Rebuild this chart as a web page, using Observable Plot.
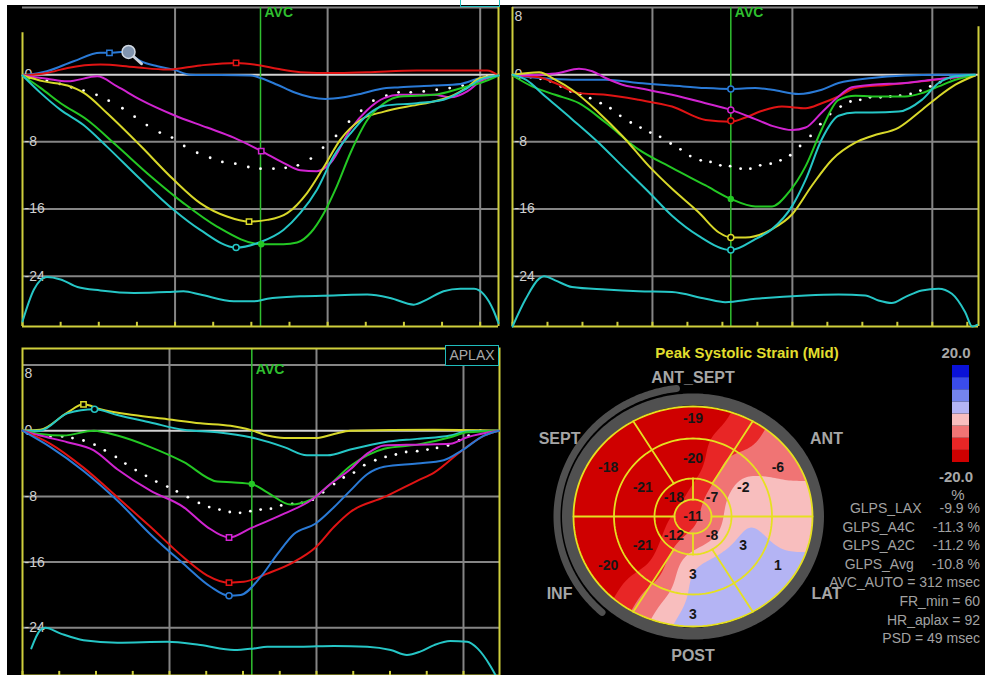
<!DOCTYPE html>
<html>
<head>
<meta charset="utf-8">
<script src="https://cdn.jsdelivr.net/npm/d3@7"></script>
<script src="https://cdn.jsdelivr.net/npm/@observablehq/plot@0.6"></script>
<style>
html, body { margin:0; padding:0; background:#fff; width:985px; height:675px; overflow:hidden; font-family:"Liberation Sans", Arial, sans-serif; }
#bg { position:absolute; left:7px; top:5px; width:978px; height:670px; background:#000; }
.abs { position:absolute; }
.abs svg { display:block; }
#boxTop { left:460px; top:-4px; width:38px; height:10px; border:1.5px solid #1fbcbc; border-top:none; }
#aplax { left:445px; top:345px; width:52px; height:19px; border:1.5px solid #1fbcbc; background:#000; color:#a8a8a8; font-size:14px; line-height:19px; text-align:center; }
#title { left:597px; top:344px; width:300px; text-align:center; color:#e2de2e; font-weight:bold; font-size:15px; line-height:18px; }
.cbl { width:50px; text-align:center; color:#a8a8a8; font-size:15px; line-height:18px; }
#stats { right:5px; top:499px; text-align:right; font-size:14px; line-height:18.6px; color:#a2a2a2; white-space:pre; }
#stats .v { margin-left:18px; }
</style>
</head>
<body>
<div id="bg"></div>
<div id="p1" class="abs" style="left:7px;top:5px;width:496px;height:328px"></div>
<div id="p2" class="abs" style="left:503px;top:5px;width:482px;height:328px"></div>
<div id="p3" class="abs" style="left:7px;top:333px;width:500px;height:342px"></div>
<div id="bull" class="abs" style="left:510px;top:333px;width:475px;height:342px"></div>
<div id="cbar" class="abs" style="left:952px;top:365px;width:17px;height:97px"></div>
<div id="boxTop" class="abs"></div>
<div id="aplax" class="abs">APLAX</div>
<div id="title" class="abs">Peak Systolic Strain (Mid)</div>
<div class="abs cbl" style="left:931px;top:344px;font-weight:bold">20.0</div>
<div class="abs cbl" style="left:931px;top:468px;font-weight:bold">-20.0</div>
<div class="abs cbl" style="left:933px;top:486px">%</div>
<div id="stats" class="abs"></div>
<script>
// ---------- constants ----------
const AVC_MS = 312;
const GRID_X = [200, 400, 600];
const GRID_Y = [8, -8, -16, -24];
const TICK_LABELS = [0, -8, -16, -24];
const C = {blue:"#2a7ad6", red:"#e01414", magenta:"#d024d0", yellow:"#d8d82a", green:"#24c824", cyan:"#26c6c6"};
const AXIS_YELLOW = "#cfcf3c";

// ---------- panel 1 (time ms, strain %) ----------
const p1Blue = [[0,-0.1],[32,0.4],[67,1.6],[102,2.6],[114,2.6],[129,2.7],[140,2.5],[155,1.6],[177,1.0],[198,0.6],[220,0],[299,-0.1],[312,-0.4],[334,-1.2],[356,-2.1],[378,-2.7],[397,-2.9],[421,-2.7],[443,-2.3],[469,-1.7],[495,-1.5],[539,-1.3],[574,-1.1],[600,-0.4],[624,-0.1]];
const p1Red = [[0,-0.1],[32,0.2],[59,0.8],[102,1.2],[146,0.9],[190,0.6],[233,1.1],[280,1.4],[312,1.1],[334,0.7],[364,0.3],[408,0.2],[452,0.3],[517,0.5],[561,0.5],[609,0.5],[624,-0.1]];
const p1Magenta = [[0,-0.1],[32,-0.5],[59,-0.8],[98,-0.2],[124,-1.4],[155,-3.0],[198,-4.8],[242,-6.3],[277,-7.5],[313,-9.1],[342,-10.5],[364,-11.4],[386,-11.5],[404,-10.5],[430,-6.5],[452,-4.2],[474,-2.8],[495,-2.4],[539,-2.4],[561,-2.7],[583,-2.0],[600,-0.8],[624,-0.1]];
const p1Yellow = [[0,-0.1],[28,-0.8],[59,-1.3],[81,-2.2],[111,-4.6],[155,-8.5],[198,-12.5],[233,-15.3],[268,-16.9],[297,-17.5],[321,-17.3],[347,-16.5],[373,-14.1],[395,-11.0],[417,-7.7],[443,-5.4],[474,-4.4],[517,-3.6],[539,-3.2],[561,-2.6],[583,-1.5],[600,-0.4],[624,-0.1]];
const p1Green = [[0,-0.1],[24,-1.6],[50,-3.4],[85,-5.4],[124,-8.5],[168,-12.1],[211,-15.3],[255,-18.1],[313,-20.2],[342,-20.2],[360,-20.0],[378,-18.8],[395,-16.5],[412,-13.3],[430,-9.3],[452,-5.4],[474,-3.4],[495,-2.6],[539,-2.4],[583,-1.4],[600,-1.0],[624,-0.1]];
const p1Cyan = [[0,-0.1],[24,-2.2],[50,-4.2],[80,-6.0],[111,-8.6],[155,-12.5],[198,-16.1],[233,-18.5],[280,-20.6],[313,-19.9],[342,-18.5],[364,-16.5],[386,-13.7],[408,-9.7],[430,-7.0],[452,-4.8],[474,-3.7],[517,-3.4],[552,-3.0],[583,-1.6],[600,-0.6],[624,-0.1]];
const p1Avg = [[32,-0.7],[49,-1.1],[64,-1.5],[80,-1.9],[97,-2.4],[113,-3.1],[131,-4.0],[147,-5.0],[163,-6.0],[180,-6.9],[196,-7.5],[212,-8.5],[229,-9.3],[246,-9.9],[262,-10.4],[279,-10.6],[296,-11.0],[312,-11.2],[329,-11.2],[345,-11.1],[361,-10.8],[378,-10.0],[394,-8.7],[411,-7.3],[428,-5.6],[444,-4.3],[460,-3.1],[477,-2.5],[493,-2.1],[509,-2.1],[526,-2.0],[543,-1.8],[560,-1.6],[577,-1.3],[593,-0.7],[609,-0.2]];
const p1Trace = [[0,-29.4],[15,-25.6],[32,-24.1],[50,-24.4],[72,-25.3],[102,-25.7],[146,-26.0],[190,-25.9],[211,-25.8],[233,-26.2],[277,-27.0],[303,-27.0],[321,-26.7],[364,-26.4],[408,-26.3],[452,-26.2],[482,-26.6],[513,-27.4],[530,-26.8],[552,-25.8],[574,-25.5],[592,-25.5],[605,-26.2],[617,-28.0],[624,-29.6]];
const p1Markers = [
  {t:114, v:2.6, c:"blue", s:"square"}, {t:280, v:1.4, c:"red", s:"square"},
  {t:297, v:-17.5, c:"yellow", s:"square"}, {t:280, v:-20.6, c:"cyan", s:"circle"},
  {t:313, v:-20.2, c:"green", s:"dot"}, {t:313, v:-9.1, c:"magenta", s:"square"}
];
const p1Magnifier = [[139,2.7],[156,1.3]];

// ---------- panel 2 ----------
const p2Blue = [[0,-0.1],[38,-0.4],[85,-0.6],[133,-0.6],[180,-1.0],[228,-1.3],[276,-1.6],[312,-1.7],[347,-1.6],[371,-1.8],[409,-2.3],[442,-1.8],[466,-1.0],[514,-0.4],[561,-0.1],[609,0],[661,0]];
const p2Red = [[0,-0.1],[38,-0.3],[61,-1.0],[95,-2.2],[133,-2.4],[180,-3.0],[228,-3.8],[276,-5.4],[312,-5.6],[333,-5.1],[357,-4.3],[385,-3.8],[419,-4.0],[442,-3.4],[466,-2.6],[490,-1.6],[538,-1.2],[585,-0.8],[633,-0.3],[661,-0.1]];
const p2Magenta = [[0,-0.1],[38,0],[66,0.2],[95,0.7],[114,0.4],[133,-0.4],[157,-1.2],[180,-1.6],[228,-2.4],[276,-3.4],[312,-4.2],[347,-5.3],[371,-6.1],[400,-6.6],[419,-6.3],[442,-4.5],[466,-2.6],[485,-1.5],[514,-1.2],[561,-1.0],[600,-0.6],[633,-0.3],[661,-0.1]];
const p2Green = [[0,-0.1],[28,-1.4],[61,-2.4],[95,-3.4],[133,-5.7],[180,-8.9],[228,-11.1],[276,-13.2],[312,-14.8],[347,-15.7],[371,-15.7],[395,-14.0],[419,-10.9],[442,-6.5],[466,-3.0],[490,-2.5],[514,-2.6],[561,-2.6],[585,-2.2],[609,-1.4],[633,-0.6],[661,-0.1]];
const p2Yellow = [[0,0],[38,0.3],[61,-0.6],[85,-1.8],[123,-4.5],[157,-7.3],[195,-10.9],[228,-13.6],[266,-16.4],[295,-18.8],[312,-19.4],[333,-19.4],[371,-18.4],[400,-16.6],[428,-13.2],[457,-10.1],[490,-8.1],[514,-7.3],[552,-6.3],[585,-4.2],[609,-2.6],[633,-1.2],[661,-0.1]];
const p2Cyan = [[0,0],[19,-0.6],[47,-2.6],[85,-5.3],[123,-8.1],[157,-10.9],[195,-14.0],[228,-16.8],[266,-19.2],[312,-20.9],[347,-19.6],[371,-18.4],[400,-15.6],[419,-12.5],[442,-7.7],[466,-4.9],[490,-4.5],[514,-4.5],[552,-4.4],[585,-3.0],[609,-1.0],[633,-0.2],[661,0]];
const p2Avg = [[11,-0.1],[26,-0.3],[40,-0.5],[54,-0.8],[69,-1.4],[83,-2.0],[97,-2.3],[111,-2.8],[126,-3.4],[140,-4.0],[154,-4.9],[169,-5.7],[183,-6.3],[197,-6.9],[211,-7.4],[226,-8.2],[240,-8.9],[254,-9.7],[269,-10.2],[283,-10.4],[297,-10.8],[311,-10.9],[326,-11.2],[340,-11.2],[354,-10.8],[369,-10.6],[383,-10.2],[397,-9.6],[411,-8.5],[426,-7.3],[440,-5.9],[454,-4.7],[469,-3.8],[483,-3.2],[497,-3.0],[511,-2.7],[526,-2.7],[540,-2.6],[554,-2.5],[569,-2.3],[583,-1.9],[597,-1.4],[611,-0.9],[626,-0.4],[640,-0.2]];
const p2Trace = [[0,-30],[19,-26.7],[38,-24.3],[45,-24.0],[61,-24.5],[85,-25.3],[133,-25.6],[180,-25.8],[228,-25.9],[276,-26.7],[304,-27.1],[347,-26.7],[419,-26.3],[466,-26.2],[504,-26.3],[523,-26.9],[542,-27.2],[561,-26.5],[585,-25.7],[609,-25.5],[628,-26.1],[647,-28.3],[657,-30],[664,-29.8]];
const p2Markers = [
  {t:312, v:-1.7, c:"blue", s:"circle"}, {t:312, v:-4.2, c:"magenta", s:"circle"},
  {t:312, v:-5.5, c:"red", s:"circle"}, {t:312, v:-14.8, c:"green", s:"dot"},
  {t:312, v:-19.4, c:"yellow", s:"circle"}, {t:312, v:-20.9, c:"cyan", s:"circle"}
];

// ---------- panel 3 ----------
const p3Yellow = [[0,0],[24,0.1],[61,2.2],[83,3.2],[106,2.6],[151,1.9],[197,1.4],[242,0.9],[283,0.6],[310,0.1],[333,-0.6],[356,-0.9],[399,-0.9],[424,-0.4],[446,0],[560,0.1],[648,0]];
const p3Cyan = [[0,0],[24,0],[61,2.1],[98,2.6],[129,1.9],[174,1.0],[219,0.1],[265,-0.2],[310,-0.8],[356,-2.0],[387,-3.0],[415,-3.0],[446,-2.3],[492,-1.4],[537,-1.0],[582,-0.6],[605,-0.1],[648,0]];
const p3Green = [[0,0],[24,-0.4],[56,-0.6],[97,0],[129,-0.6],[174,-2.0],[219,-3.8],[265,-6.2],[288,-6.3],[312,-6.5],[333,-7.5],[365,-9.0],[392,-8.4],[419,-6.5],[446,-4.3],[469,-3.0],[492,-2.2],[537,-1.7],[582,-0.8],[605,-0.2],[648,0]];
const p3Magenta = [[0,0],[24,-0.6],[61,-1.4],[97,-2.4],[129,-4.7],[174,-7.3],[219,-9.3],[251,-11.7],[281,-13.0],[310,-11.9],[356,-10.1],[392,-8.5],[419,-6.5],[446,-4.7],[469,-2.8],[492,-1.8],[537,-1.7],[582,-1.6],[605,-0.8],[648,0]];
const p3Red = [[0,0],[38,-1.6],[83,-4.5],[129,-8.1],[174,-11.7],[219,-15.4],[251,-17.6],[281,-18.5],[301,-18.4],[333,-17.4],[369,-16.0],[399,-14.2],[424,-11.7],[446,-9.9],[492,-8.1],[537,-6.1],[560,-5.1],[598,-2.4],[628,-0.6],[648,0]];
const p3Blue = [[0,0],[38,-2.0],[83,-4.9],[129,-8.5],[174,-12.6],[219,-16.2],[256,-19.0],[281,-20.1],[297,-20.0],[324,-17.8],[347,-15.0],[369,-12.6],[399,-11.3],[424,-9.3],[446,-7.3],[469,-5.3],[492,-4.4],[537,-4.0],[573,-3.6],[598,-2.4],[628,-0.6],[648,0]];
const p3Avg = [[15,-0.4],[38,-0.7],[54,-0.7],[68,-0.9],[83,-1.2],[98,-1.7],[112,-2.4],[127,-3.2],[140,-4.0],[154,-4.8],[168,-5.5],[182,-6.2],[197,-6.8],[210,-7.4],[225,-8.1],[240,-8.8],[254,-9.3],[268,-9.6],[282,-9.9],[296,-10.0],[310,-9.8],[324,-9.6],[338,-9.5],[352,-9.1],[367,-8.9],[380,-8.8],[395,-8.4],[409,-7.5],[424,-6.5],[437,-5.7],[451,-5.1],[465,-4.2],[480,-3.6],[494,-3.2],[508,-2.9],[522,-2.6],[537,-2.5],[551,-2.3],[564,-2.1],[579,-1.8],[594,-1.2],[607,-0.6],[623,0]];
const p3Trace = [[12,-26.5],[24,-24.3],[31,-24.0],[52,-24.7],[83,-25.5],[129,-25.8],[197,-25.7],[242,-26.1],[288,-26.7],[315,-26.5],[333,-26.3],[378,-26.3],[424,-26.2],[469,-26.3],[501,-26.7],[523,-27.3],[541,-26.9],[560,-26.1],[582,-25.6],[605,-25.7],[619,-26.5],[637,-28.7],[648,-30.5]];
const p3Markers = [
  {t:83, v:3.2, c:"yellow", s:"square"}, {t:98, v:2.6, c:"cyan", s:"circle"},
  {t:312, v:-6.5, c:"green", s:"dot"}, {t:281, v:-13.0, c:"magenta", s:"square"},
  {t:281, v:-18.5, c:"red", s:"square"}, {t:281, v:-20.1, c:"blue", s:"circle"}
];

// ---------- bullseye ----------
const segRing  = ["basal","basal","basal","basal","basal","basal","mid","mid","mid","mid","mid","mid","apical","apical","apical","apical","apex"];
const segAngle = [90, 30, -30, -90, -150, 150, 90, 30, -30, -90, -150, 150, 135, 45, -45, -135, 0];
const segValue = [-19, -6, 1, 3, -20, -18, -20, -2, 3, 3, -21, -21, -18, -7, -8, -12, -11];
const wallNames = ["ANT_SEPT", "ANT", "LAT", "POST", "INF", "SEPT"];
const wallAngles = [90, 34, -34, -90, -146, 146];
const SCALE_BREAKS = [-15, -10, -5, 0, 5, 10, 15];
const CONTOUR_LEVELS = [-40, -15, -10, -5, 0, 5, 10, 15];
const SCALE_COLORS = ["#cf0000", "#e82626", "#f07474", "#f8bebe", "#b4b4f4", "#7484ee", "#3a4cea", "#0a12d8"];
const SCALE_BINS = [-20, -15, -10, -5, 0, 5, 10, 15];
const statLabels = ["GLPS_LAX", "GLPS_A4C", "GLPS_A2C", "GLPS_Avg"];
const statValues = ["-9.9 %", "-11.3 %", "-11.2 %", "-10.8 %"];
const infoLines = ["AVC_AUTO = 312 msec", "FR_min = 60", "HR_aplax = 92", "PSD = 49 msec"];

// ---------- helpers ----------
const FONT = "Liberation Sans, Arial, sans-serif";
const px = d => d[0], py = d => d[1];

function strainPanel(o) {
  const [yMin, yMax] = o.yDomain;
  const xMax = o.xMax;
  const line = (data, c) => Plot.line(data, {x: px, y: py, stroke: C[c], strokeWidth: 2, curve: "monotone-x"});
  const LBL = {textAnchor: "start", fill: "#cfcfcf", fontSize: 14, dx: 2};
  const marks = [
    Plot.ruleY(GRID_Y.filter(v => v >= yMin && v <= yMax), {stroke: "#858585", strokeWidth: 2}),
    Plot.ruleX(GRID_X.filter(t => t < xMax), {stroke: "#858585", strokeWidth: 2}),
    Plot.ruleY([0], {stroke: "#d2d2d2", strokeWidth: 2}),
    Plot.ruleX([AVC_MS], {stroke: "#30c030", strokeWidth: 1.5}),
    Plot.text(["AVC"], {x: AVC_MS, y: 7.4, text: d => d, dx: 4, textAnchor: "start", fill: "#2fbf2f", fontSize: 14, fontWeight: "bold"}),
    Plot.text(TICK_LABELS, {x: 0, y: d => d, text: d => String(d), ...LBL})
  ];
  if (o.show8) marks.push(Plot.text([8], {x: 0, y: d => d, text: d => String(d), dy: 9, ...LBL}));
  // frame
  if (o.fullFrame) marks.push(Plot.frame({stroke: AXIS_YELLOW, strokeWidth: 2}));
  else {
    marks.push(Plot.ruleX([0], {y1: yMin, y2: o.leftTop, stroke: AXIS_YELLOW, strokeWidth: 2}));
    marks.push(Plot.ruleX([xMax], {y1: yMin, y2: o.rightTop, stroke: AXIS_YELLOW, strokeWidth: 2}));
    marks.push(Plot.ruleY([yMin], {stroke: AXIS_YELLOW, strokeWidth: 2}));
  }
  marks.push(Plot.ruleX(d3.range(0, xMax + 1, 50), {y1: yMin, y2: yMin + 0.5, stroke: AXIS_YELLOW, strokeWidth: 2}));
  // traces
  marks.push(line(o.trace, "cyan"));
  marks.push(Plot.dot(o.avg, {x: px, y: py, r: 1.4, fill: "#ffffff"}));
  for (const [data, c] of o.series) marks.push(line(data, c));
  // markers
  marks.push(Plot.dot(o.markers.filter(m => m.s === "square"), {x: "t", y: "v", symbol: "square", r: 3, stroke: d => C[d.c], strokeWidth: 1.5, fill: "black"}));
  marks.push(Plot.dot(o.markers.filter(m => m.s === "circle"), {x: "t", y: "v", symbol: "circle", r: 3, stroke: d => C[d.c], strokeWidth: 1.5, fill: "black"}));
  marks.push(Plot.dot(o.markers.filter(m => m.s === "dot"), {x: "t", y: "v", r: 3.2, fill: d => C[d.c]}));
  if (o.magnifier) {
    marks.push(Plot.line(o.magnifier, {x: px, y: py, stroke: "#c8d0da", strokeWidth: 3}));
    marks.push(Plot.dot(o.magnifier.slice(0, 1), {x: px, y: py, r: 6.5, fill: "#8094ae", stroke: "#d0d8e2", strokeWidth: 1.5}));
  }
  return Plot.plot({
    width: o.width, height: o.height,
    marginLeft: o.ml, marginRight: o.mr, marginTop: o.mt, marginBottom: o.mb,
    x: {domain: [0, xMax], axis: null},
    y: {domain: [yMin, yMax], axis: null},
    color: {type: "identity"},
    style: {background: "transparent", fontFamily: FONT, overflow: "hidden"},
    marks
  });
}

document.getElementById("p1").append(strainPanel({
  width: 496, height: 328, ml: 15, mr: 5, mt: 2, mb: 7,
  xMax: 624, yDomain: [-30, 8], leftTop: 5, rightTop: 8, show8: false,
  trace: p1Trace, avg: p1Avg,
  series: [[p1Blue,"blue"],[p1Red,"red"],[p1Magenta,"magenta"],[p1Yellow,"yellow"],[p1Green,"green"],[p1Cyan,"cyan"]],
  markers: p1Markers, magnifier: p1Magnifier
}));
document.getElementById("p2").append(strainPanel({
  width: 482, height: 328, ml: 9, mr: 7, mt: 2, mb: 7,
  xMax: 666, yDomain: [-30, 8], leftTop: 8, rightTop: 5.7, show8: true,
  trace: p2Trace, avg: p2Avg,
  series: [[p2Blue,"blue"],[p2Red,"red"],[p2Magenta,"magenta"],[p2Green,"green"],[p2Yellow,"yellow"],[p2Cyan,"cyan"]],
  markers: p2Markers
}));
document.getElementById("p3").append(strainPanel({
  width: 500, height: 342, ml: 15, mr: 8, mt: 15, mb: 0,
  xMax: 649, yDomain: [-29.8, 10], fullFrame: true, show8: true,
  trace: p3Trace, avg: p3Avg,
  series: [[p3Yellow,"yellow"],[p3Cyan,"cyan"],[p3Green,"green"],[p3Magenta,"magenta"],[p3Red,"red"],[p3Blue,"blue"]],
  markers: p3Markers
}));

// ---------- bullseye ----------
const RING_LABEL_R = {basal: 98, mid: 58, apical: 27, apex: 0};
const rad = a => a * Math.PI / 180;
const segments = segValue.map((v, i) => ({
  value: v,
  x: RING_LABEL_R[segRing[i]] * Math.cos(rad(segAngle[i])),
  y: RING_LABEL_R[segRing[i]] * Math.sin(rad(segAngle[i]))
}));
const RINGS = [[119.5, 110], [79, 78], [38.5, 38], [18.5, 17]];
function arc(rx, ry, a0, a1, n = 160) {
  return d3.range(n + 1).map(i => { const a = rad(a0 + (a1 - a0) * i / n); return [rx * Math.cos(a), ry * Math.sin(a)]; });
}
const [outer, , inner, apex] = RINGS;
const spokes = [60, 120, 240, 300].map(a => [[inner[0] * Math.cos(rad(a)), inner[1] * Math.sin(rad(a))], [outer[0] * Math.cos(rad(a)), outer[1] * Math.sin(rad(a))]]);
spokes.push([[-outer[0], 0], [-apex[0], 0]], [[apex[0], 0], [outer[0], 0]], [[0, apex[1]], [0, inner[1]]], [[0, -apex[1]], [0, -inner[1]]]);

const YEL = "#e6e020";
const bullMarks = [
  Plot.line(arc(125, 117, 0, 360), {x: px, y: py, stroke: "#505050", strokeWidth: 12}),
  Plot.line(arc(136, 129, 97, 228), {x: px, y: py, stroke: "#505050", strokeWidth: 7}),
  Plot.contour(segments, {x: "x", y: "y", fill: "value", x1: -135, x2: 135, y1: -125, y2: 125,
    interpolate: "barycentric", blur: 5, pixelSize: 2, thresholds: CONTOUR_LEVELS, stroke: "none"}),
  ...RINGS.map(([rx, ry]) => Plot.line(arc(rx, ry, 0, 360), {x: px, y: py, stroke: YEL, strokeWidth: 1.8})),
  ...spokes.map(s => Plot.line(s, {x: px, y: py, stroke: YEL, strokeWidth: 1.8})),
  Plot.text(segments, {x: "x", y: "y", text: d => String(d.value), fill: "#161616", fontSize: 14, fontWeight: "bold"}),
  Plot.text(wallNames, {x: (d, i) => 161 * Math.cos(rad(wallAngles[i])), y: (d, i) => 139 * Math.sin(rad(wallAngles[i])), text: d => d, fill: "#a6a6a6", fontSize: 16, fontWeight: "bold"})
];
const bull = Plot.plot({
  width: 475, height: 342, margin: 0,
  x: {domain: [-182.5, 292.5], axis: null},
  y: {domain: [-159, 183], axis: null},
  color: {type: "threshold", domain: SCALE_BREAKS, range: SCALE_COLORS},
  style: {background: "transparent", fontFamily: FONT},
  marks: bullMarks
});
{
  const sx = bull.scale("x"), sy = bull.scale("y");
  const svg = d3.select(bull);
  svg.append("defs").append("clipPath").attr("id", "bclip").attr("clipPathUnits", "userSpaceOnUse")
    .append("ellipse").attr("cx", sx.apply(0)).attr("cy", sy.apply(0)).attr("rx", outer[0]).attr("ry", outer[1]);
  svg.selectAll('g[aria-label="contour"]').attr("clip-path", "url(#bclip)");
}
document.getElementById("bull").append(bull);

// ---------- colour bar ----------
document.getElementById("cbar").append(Plot.plot({
  width: 17, height: 97, margin: 0,
  x: {domain: [0, 1], axis: null},
  y: {domain: [-20, 20], axis: null},
  color: {type: "threshold", domain: SCALE_BREAKS, range: SCALE_COLORS},
  style: {background: "transparent"},
  marks: [Plot.rect(SCALE_BINS, {x1: 0, x2: 1, y1: d => d, y2: d => d + 5, fill: d => d + 2.5})]
}));

// ---------- stats ----------
const st = document.getElementById("stats");
statLabels.forEach((l, i) => {
  const div = document.createElement("div");
  div.innerHTML = `<span>${l}</span><span class="v">${statValues[i]}</span>`;
  st.append(div);
});
infoLines.forEach(t => { const div = document.createElement("div"); div.textContent = t; st.append(div); });
</script>
</body>
</html>
